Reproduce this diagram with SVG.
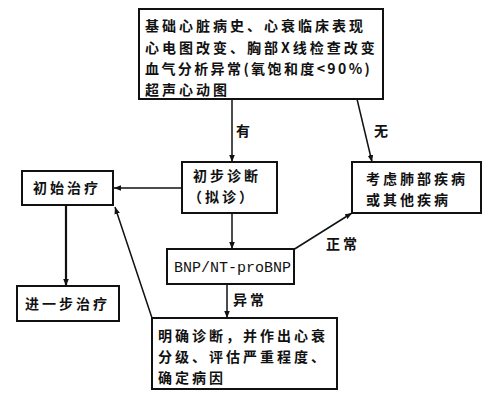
<svg xmlns="http://www.w3.org/2000/svg" width="498" height="401" viewBox="0 0 498 401">
<defs>
<marker id="ah" viewBox="0 0 10 10" refX="10" refY="5" markerWidth="7" markerHeight="7" markerUnits="userSpaceOnUse" orient="auto">
<path d="M0,1 L10,5 L0,9 Z" fill="#111"/>
</marker>
</defs>
<style>
rect{fill:#fff;stroke:#111;stroke-width:2}
text{font-family:"Noto Sans CJK SC","Noto Sans",sans-serif;font-size:14px;font-weight:bold;fill:#111;letter-spacing:3px}
.mono{font-family:"Liberation Mono","DejaVu Sans Mono",monospace;font-weight:normal;letter-spacing:0}
.c{stroke:#111;stroke-width:1.5;fill:none;marker-end:url(#ah)}
</style>
<rect width="498" height="401" style="fill:#fff;stroke:none"/>
<g id="connectors">
<line class="c" x1="232" y1="99" x2="232" y2="162"/>
<line class="c" x1="357" y1="99" x2="372" y2="162"/>
<line class="c" x1="182" y1="188" x2="114" y2="188"/>
<line class="c" x1="232" y1="213" x2="232" y2="249"/>
<line class="c" x1="66" y1="205" x2="66" y2="286" style="stroke-width:2.2"/>
<line class="c" x1="293" y1="250" x2="352" y2="213"/>
<line class="c" x1="227" y1="284" x2="227" y2="318"/>
<line class="c" x1="152" y1="318" x2="115" y2="207"/>
<text x="236" y="136">有</text>
<text x="374" y="136">无</text>
<text x="326" y="249">正常</text>
<text x="233" y="305">异常</text>
</g>
<g id="top">
<rect x="139" y="9" width="244" height="90"/>
<text x="145" y="31">基础心脏病史、心衰临床表现</text>
<text x="145" y="53">心电图改变、胸部X线检查改变</text>
<text x="145" y="74" style="letter-spacing:2.4px">血气分析异常(氧饱和度&lt;90%)</text>
<text x="145" y="95">超声心动图</text>
</g>
<g id="prelim">
<rect x="182" y="162" width="95" height="51"/>
<text x="193" y="181">初步诊断</text>
<text x="188" y="202" style="letter-spacing:3px">（拟诊）</text>
</g>
<g id="lung">
<rect x="352" y="162" width="129" height="51"/>
<text x="366" y="184">考虑肺部疾病</text>
<text x="366" y="205">或其他疾病</text>
</g>
<g id="init">
<rect x="22" y="171" width="91" height="34"/>
<text x="33" y="193">初始治疗</text>
</g>
<g id="further">
<rect x="17" y="286" width="102" height="35"/>
<text x="25" y="309">进一步治疗</text>
</g>
<g id="bnp">
<rect x="167" y="249" width="127" height="35"/>
<text class="mono" x="174" y="272" style="font-size:15px">BNP/NT-proBNP</text>
</g>
<g id="confirm">
<rect x="152" y="318" width="185" height="71"/>
<text x="158" y="341">明确诊断，并作出心衰</text>
<text x="158" y="362">分级、评估严重程度、</text>
<text x="158" y="383">确定病因</text>
</g>
</svg>
